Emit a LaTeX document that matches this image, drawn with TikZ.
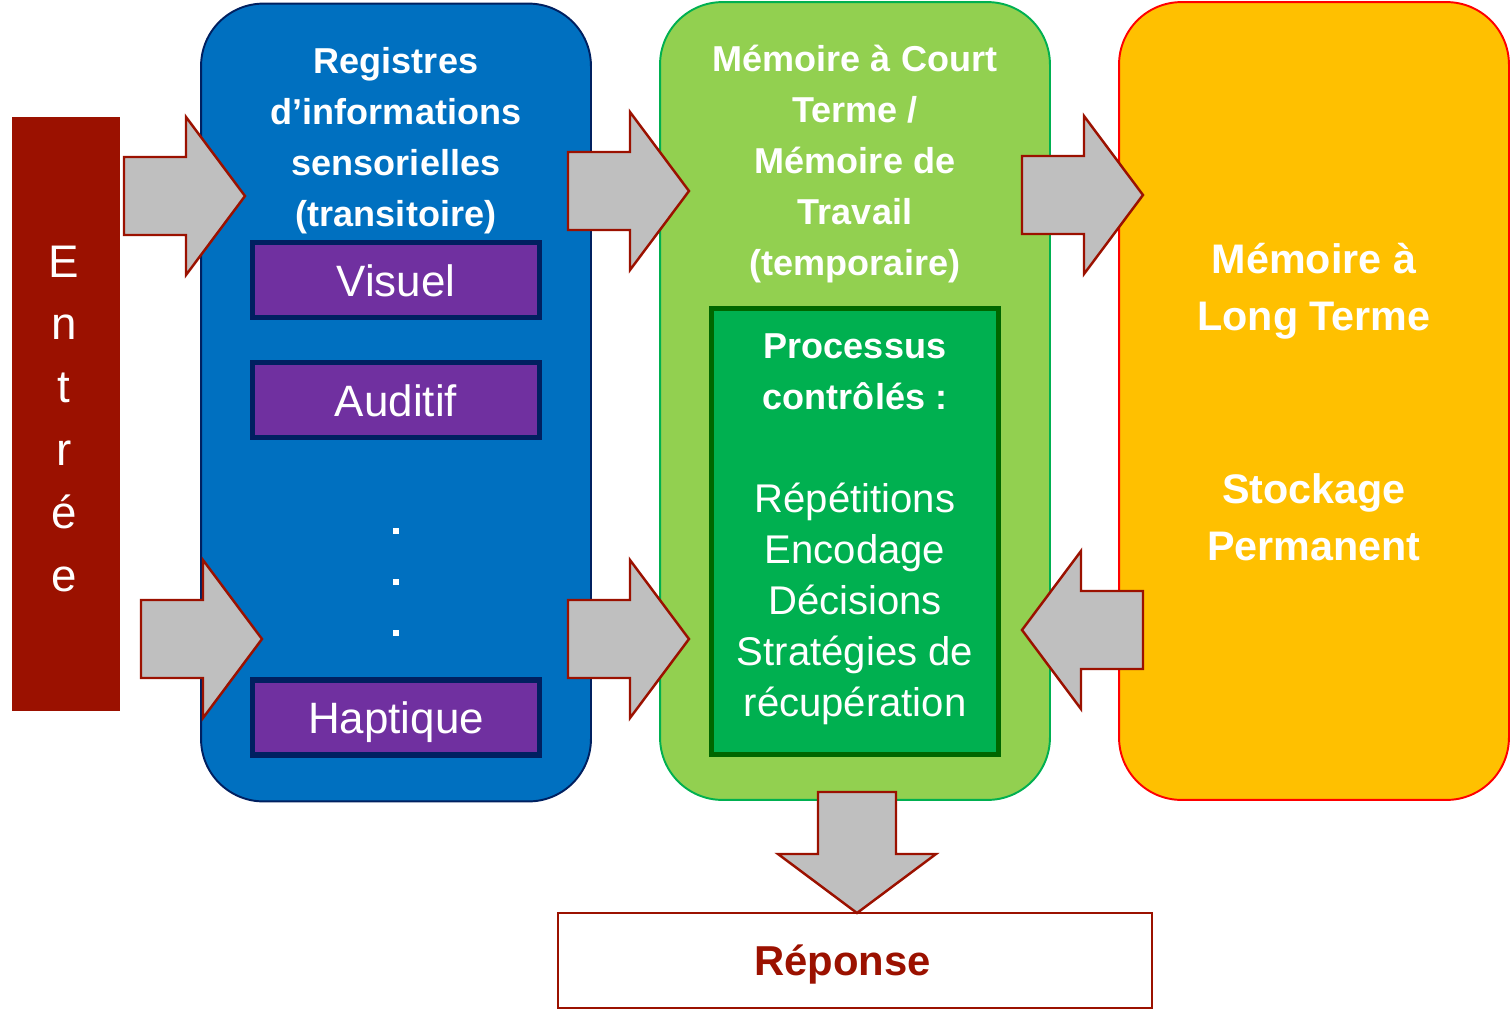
\documentclass[tikz,border=0pt]{standalone}
\usepackage{fontspec}
\setmainfont{Liberation Sans}
\definecolor{rouille}{RGB}{155,17,0}
\definecolor{bleuR}{RGB}{0,112,192}
\definecolor{marine}{RGB}{0,32,96}
\definecolor{violetS}{RGB}{112,48,160}
\definecolor{vertC}{RGB}{146,208,80}
\definecolor{vertB}{RGB}{0,176,80}
\definecolor{vertF}{RGB}{0,102,0}
\definecolor{orangeL}{RGB}{255,192,0}
\definecolor{grisF}{RGB}{191,191,191}
\tikzset{
  bloc/.style={rounded corners=1.25cm, line width=1.1pt, minimum width=7.8cm, minimum height=15.96cm},
  sens/.style={fill=violetS, draw=marine, line width=3pt, minimum width=5.74cm, minimum height=1.5cm,
    inner sep=0pt, text height=18.5pt, text depth=0pt, text=white, font=\fontsize{25}{30}\selectfont},
  titre/.style={text=white, align=center, font=\bfseries\fontsize{20.5}{29}\selectfont},
  liste/.style={text=white, align=center, font=\fontsize{22.8}{29}\selectfont},
  pics/fleche/.style={code={
    \draw[fill=grisF, draw=rouille, line width=1.4pt, line join=miter]
      (0,-39) -- (62,-39) -- (62,-79) -- (121,0) -- (62,79) -- (62,39) -- (0,39) -- cycle;}}
}
\begin{document}
\begin{tikzpicture}[x=0.02cm, y=-0.02cm]
    \useasboundingbox (0,0) rectangle (1512,1009);
    % Entree (left bar)
    \node[fill=rouille, minimum width=2.16cm, minimum height=11.88cm] (entree) at (66,414) {};
    \foreach \l [count=\i] in {E,n,t,r,é,e}
        \node[text=white, anchor=base, font=\fontsize{26}{30}\selectfont] (e\i) at (64, 277 + 62.8*\i - 62.8) {\l};
    % the three stores
    \node[bloc, fill=bleuR, draw=marine] (registres) at (396,402.5) {};
    \node[bloc, fill=vertC, draw=vertB] (mct) at (855,401) {};
    \node[bloc, fill=orangeL, draw=red] (mlt) at (1314,401) {};
    \node[titre] (tReg) at (396,140.5) {Registres\\d’informations\\sensorielles\\(transitoire)};
    \node[titre] (tMct) at (855,164) {Mémoire à Court\\Terme /\\Mémoire de\\Travail\\(temporaire)};
    \node[titre, font=\bfseries\fontsize{23.5}{32.3}\selectfont] (tMlt) at (1314,291) {Mémoire à\\Long Terme};
    \node[titre, font=\bfseries\fontsize{23.5}{32.3}\selectfont] (tStock) at (1314,517.5) {Stockage\\Permanent};
    % sensory registers
    \node[sens] (visuel) at (396,280) {Visuel};
    \node[sens] (auditif) at (396,400) {Auditif};
    \node[sens] (haptique) at (396,717.5) {Haptique};
    \foreach \y in {531,582,633} \fill[white] (393,\y-3) rectangle (399,\y+3);
    % controlled processes
    \node[fill=vertB, draw=vertF, line width=3pt, minimum width=5.74cm, minimum height=8.92cm] (processus) at (855,531.5) {};
    \node[titre] (tProc) at (855,371.5) {Processus\\contrôlés :};
    \node[liste] (lProc) at (855,604) {Répétitions\\Encodage\\Décisions\\Stratégies de\\récupération};
    % response
    \node[draw=rouille, line width=0.8pt, fill=white, minimum width=11.88cm, minimum height=1.9cm,
        text height=17pt, text depth=0pt, text=rouille, font=\bfseries\fontsize{23.8}{28}\selectfont] (reponse) at (855,960.5) {\hspace*{-0.5cm}Réponse};
    % block arrows
    \coordinate (f1) at (124,196);
    \coordinate (f2) at (141,639);
    \coordinate (f3) at (568,191);
    \coordinate (f4) at (568,639);
    \coordinate (f5) at (1022,195);
    \coordinate (f6) at (1143,630);
    \coordinate (f7) at (857,792);
    \foreach \c/\a in {f1/0,f2/0,f3/0,f4/0,f5/0,f6/180,f7/-90}
        \pic[rotate=\a] at (\c) {fleche};
\end{tikzpicture}
\end{document}
